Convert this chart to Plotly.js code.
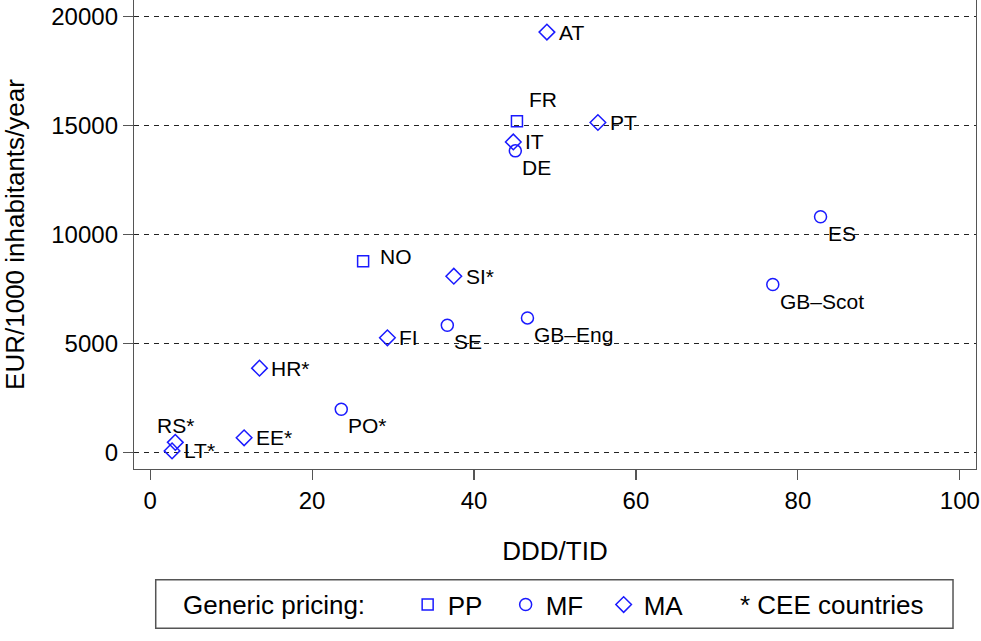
<!DOCTYPE html>
<html>
<head>
<meta charset="utf-8">
<script src="https://cdn.plot.ly/plotly-3.0.1.min.js"></script>
<style>
  html, body { margin: 0; padding: 0; background: #fff; }
  #chart { width: 981px; height: 641px; }
</style>
</head>
<body>
<div id="chart"></div>
<script>
// countries, their DDD/TID and spending (EUR/1000 inhabitants/year)
var countries = ['AT', 'FR', 'PT', 'IT', 'DE', 'ES', 'GB\u2013Scot', 'NO', 'SI*', 'SE',
                 'GB\u2013Eng', 'FI', 'HR*', 'PO*', 'EE*', 'RS*', 'LT*'];
var dddTid = [49.0, 45.3, 55.3, 44.85, 45.1, 82.8, 76.9, 26.3, 37.5, 36.7,
              46.6, 29.3, 13.5, 23.6, 11.6, 3.1, 2.7];
var eurPer1000 = [19270, 15190, 15130, 14240, 13830, 10810, 7710, 8770, 8090, 5840,
                  6180, 5270, 3880, 2000, 690, 480, 90];
var pricing = ['MA', 'PP', 'MA', 'MA', 'MF', 'MF', 'MF', 'PP', 'MA', 'MF',
               'MF', 'MA', 'MA', 'MF', 'MA', 'MA', 'MA'];
// label position around each marker, as a clock position
var labelClock = [3, 1, 3, 3, 4, 4, 4, 2, 3, 4, 4, 3, 3, 4, 3, 12, 3];

var groups = ['PP', 'MF', 'MA'];
var yTicks = [0, 5000, 10000, 15000, 20000];
var xTicks = [0, 20, 40, 60, 80, 100];

var blue = 'rgb(26,26,255)';
var font = 'Liberation Sans, Arial, Helvetica, sans-serif';
var symbols = { PP: 'square-open', MF: 'circle-open', MA: 'diamond-open' };
var sizes = { PP: 11, MF: 12, MA: 12 };

var data = groups.map(function (g) {
    var xs = [], ys = [];
    for (var i = 0; i < countries.length; i++) {
        if (pricing[i] === g) { xs.push(dddTid[i]); ys.push(eurPer1000[i]); }
    }
    return {
        type: 'scatter',
        mode: 'markers',
        name: g,
        x: xs,
        y: ys,
        marker: { symbol: symbols[g], size: sizes[g], color: blue,
                  line: { color: blue, width: 1.5 } },
        hoverinfo: 'x+y'
    };
});

// screen offsets (px) of the label for each clock position
var clockOffset = {
    1:  { xa: 'left',   dx: 10, dy: 22 },
    2:  { xa: 'left',   dx: 15, dy: 5 },
    3:  { xa: 'left',   dx: 10, dy: 0 },
    4:  { xa: 'left',   dx: 5,  dy: -16.5 },
    12: { xa: 'center', dx: 0,  dy: 16.5 }
};

var annotations = countries.map(function (c, i) {
    var o = clockOffset[labelClock[i]];
    return {
        x: dddTid[i], y: eurPer1000[i], xref: 'x', yref: 'y',
        text: c, showarrow: false,
        xanchor: o.xa, yanchor: 'middle',
        xshift: o.dx, yshift: o.dy,
        font: { family: font, size: 21, color: '#000' }
    };
});

// legend caption and note
annotations.push({
    xref: 'paper', yref: 'paper', x: 0.0555, y: -0.2893,
    xanchor: 'left', yanchor: 'middle', showarrow: false,
    text: 'Generic pricing:', font: { family: font, size: 26, color: '#000' }
});
annotations.push({
    xref: 'paper', yref: 'paper', x: 0.717, y: -0.2893,
    xanchor: 'left', yanchor: 'middle', showarrow: false,
    text: '* CEE countries', font: { family: font, size: 26, color: '#000' }
});

var layout = {
    width: 981,
    height: 641,
    margin: { l: 134, r: 5, t: 0, b: 172 },
    paper_bgcolor: '#fff',
    plot_bgcolor: '#fff',
    font: { family: font, color: '#000' },
    showlegend: true,
    legend: {
        orientation: 'h',
        x: 0.325, xanchor: 'left',
        y: -0.2893, yanchor: 'middle',
        entrywidth: 53,
        font: { family: font, size: 26, color: '#000' },
        bgcolor: 'rgba(0,0,0,0)',
        borderwidth: 0
    },
    xaxis: {
        range: [-2, 102],
        tickvals: xTicks,
        ticktext: xTicks.map(String),
        showgrid: false,
        zeroline: false,
        showline: true, mirror: true, linecolor: '#555', linewidth: 1.2,
        ticks: 'outside', ticklen: 10, tickwidth: 1.2, tickcolor: '#555',
        tickfont: { family: font, size: 24, color: '#000' },
        title: { text: 'DDD/TID', font: { family: font, size: 26, color: '#000' }, standoff: 28 }
    },
    yaxis: {
        range: [-740, 20740],
        tickvals: yTicks,
        ticktext: yTicks.map(String),
        showgrid: true, gridcolor: '#222', gridwidth: 1, griddash: '5px,5px',
        zeroline: false,
        showline: true, mirror: true, linecolor: '#555', linewidth: 1.2,
        ticks: 'outside', ticklen: 10, tickwidth: 1.2, tickcolor: '#555',
        tickfont: { family: font, size: 24, color: '#000' },
        title: { text: 'EUR/1000 inhabitants/year', font: { family: font, size: 26, color: '#000' }, standoff: 20 }
    },
    shapes: [{
        type: 'rect', xref: 'paper', yref: 'paper',
        x0: 0.0258, x1: 0.9727, y0: -0.3397, y1: -0.236,
        line: { color: '#555', width: 1.5 }
    }],
    annotations: annotations
};

Plotly.newPlot('chart', data, layout, { displayModeBar: false, staticPlot: true });
</script>
</body>
</html>
